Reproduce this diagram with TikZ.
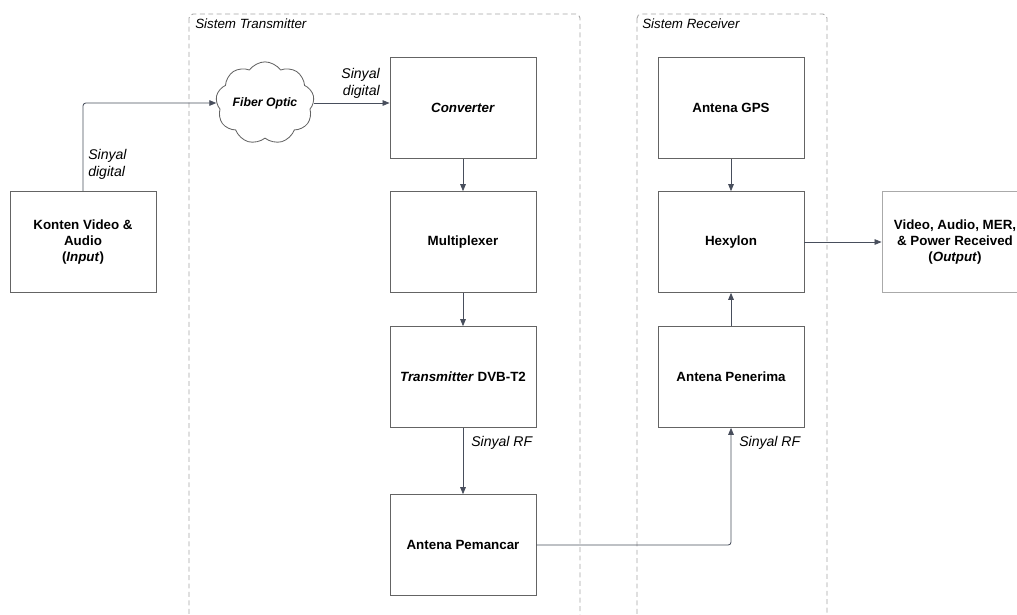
\documentclass[tikz,border=0pt]{standalone}
\usepackage{fontspec}
\setmainfont{Liberation Sans}
\usepackage{tikz}
\usetikzlibrary{shapes.symbols, arrows.meta}
\definecolor{LnSlate}{RGB}{72,78,92}
\definecolor{BoxGray}{RGB}{100,100,100}
\definecolor{OutGray}{RGB}{170,170,170}
\definecolor{DashGray}{RGB}{165,165,165}

\begin{document}
\begin{tikzpicture}[x=0.025cm, y=-0.025cm,
    blok/.style={rectangle, draw=BoxGray, line width=0.6pt, minimum width=3.65cm,
                 minimum height=2.52cm, align=center,
                 font=\fontsize{9.5}{11.4}\selectfont\bfseries},
    ket/.style={font=\fontsize{10}{12}\selectfont\itshape, inner sep=0pt, align=left},
    arr/.style={-{Triangle[length=5pt, width=4pt]}, draw=LnSlate, line width=0.6pt,
                rounded corners=2pt},
    grup/.style={draw=DashGray, dash pattern=on 3.5pt off 2.5pt, line width=0.6pt,
                 rounded corners=3pt}
  ]
  \clip (0,0) rectangle (1017,614);

  % kotak sistem
  \draw[grup] (189,14) rectangle (580,640);
  \draw[grup] (637,14) rectangle (827,640);
  \node[ket, font=\fontsize{9.5}{11}\selectfont\itshape, anchor=west]
        (lbltx) at (195,24) {Sistem Transmitter};
  \node[ket, font=\fontsize{9.5}{11}\selectfont\itshape, anchor=west]
        (lblrx) at (642,24) {Sistem Receiver};

  % blok
  \node[blok] (inp)  at (83,242)  {Konten Video \&\\Audio\\(\textit{Input})};
  \node[cloud, cloud puffs=9, cloud puff arc=110, aspect=1.3, draw=BoxGray,
        line width=0.6pt, minimum width=1.85cm, minimum height=1.45cm, inner sep=0pt,
        font=\fontsize{8.7}{10}\selectfont\bfseries\itshape]
        (fo) at (265,103) {Fiber Optic};
  \node[blok] (conv) at (463,108) {\textit{Converter}};
  \node[blok] (mux)  at (463,242) {Multiplexer};
  \node[blok] (tx)   at (463,377) {\textit{Transmitter} DVB-T2};
  \node[blok] (ant)  at (463,545) {Antena Pemancar};
  \node[blok] (gps)  at (731,108) {Antena GPS};
  \node[blok] (hex)  at (731,242) {Hexylon};
  \node[blok] (rx)   at (731,377) {Antena Penerima};
  \node[blok, draw=OutGray] (out) at (955,242)
        {Video, Audio, MER,\\\& Power Received\\(\textit{Output})};

  % panah
  \draw[arr] (inp.north) |- (fo.west);
  \draw[arr] (fo.east) -- (fo.east -| conv.west);
  \foreach \a/\b in {conv/mux, mux/tx, tx/ant, gps/hex, rx/hex, hex/out} {
    \draw[arr] (\a) -- (\b);
  }
  \draw[arr] (ant.east) -| (rx.south);

  % label sinyal
  \node[ket, anchor=west] (s1) at (88,164) {Sinyal\\digital};
  \node[ket, anchor=east, align=right] (s2) at (380,83) {Sinyal\\digital};
  \node[ket, anchor=west] (s3) at (471,443) {Sinyal RF};
  \node[ket, anchor=west] (s4) at (739,443) {Sinyal RF};
\end{tikzpicture}
\end{document}
